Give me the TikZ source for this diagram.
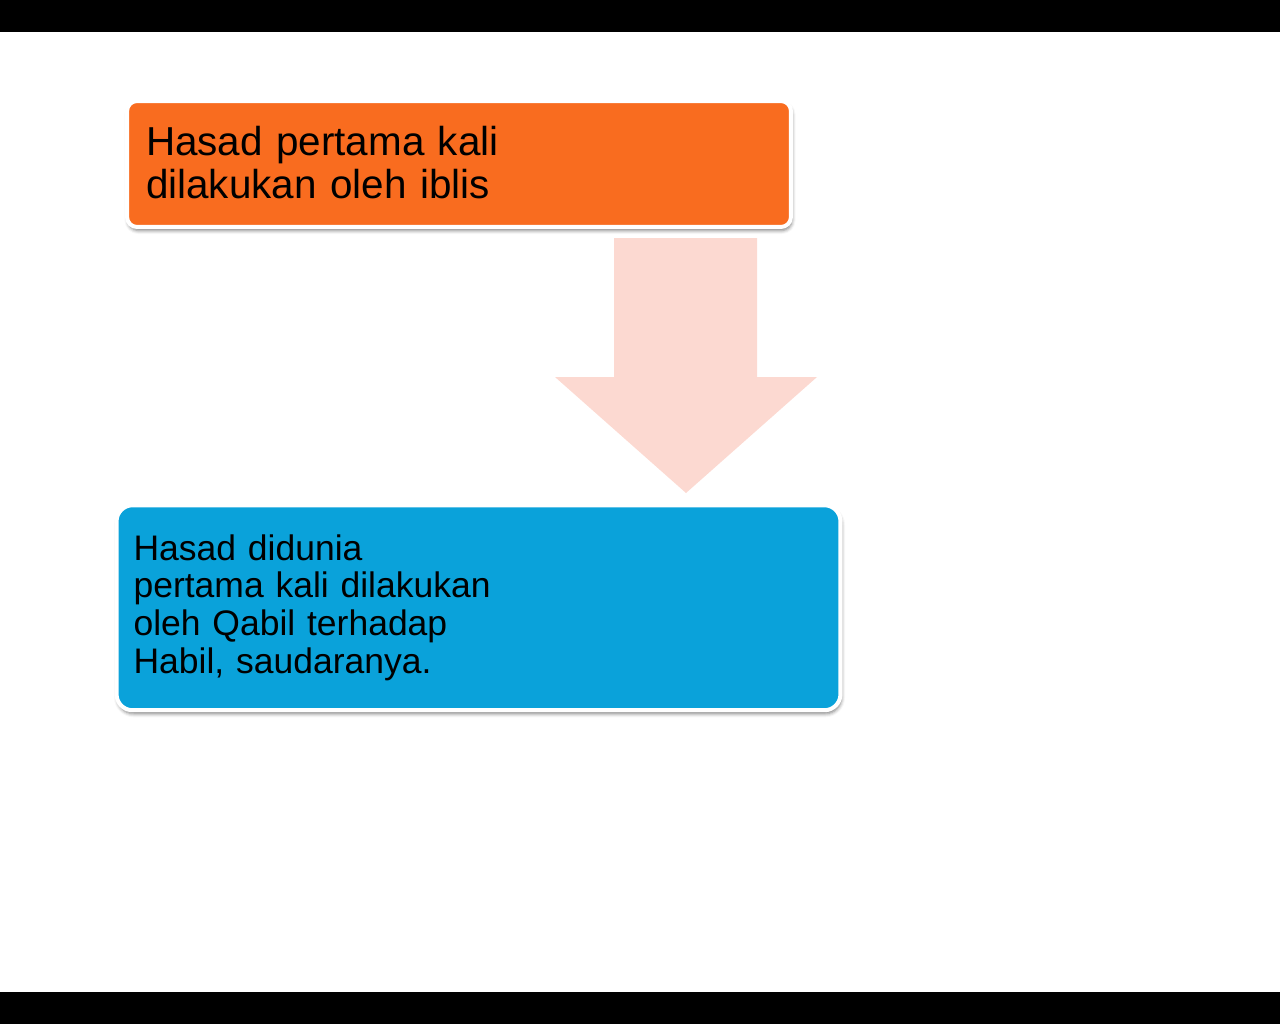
\documentclass[tikz,border=0pt]{standalone}
\usepackage{fontspec}
\setmainfont{Liberation Sans}
\usepackage{xcolor}
\usetikzlibrary{positioning, calc, shadows.blur}
\definecolor{hasadorange}{HTML}{F96C1F}
\definecolor{hasadblue}{HTML}{0AA2DA}
\definecolor{arrowpink}{HTML}{FCD9D1}

\begin{document}
\begin{tikzpicture}[x=0.02cm, y=-0.02cm,
    hasadbox/.style={draw=white, line width=4*0.02cm, align=left,
      blur shadow={shadow xshift=0.6pt, shadow yshift=-2pt, shadow blur radius=2pt, shadow opacity=50}}]
    \useasboundingbox (0,0) rectangle (1280,1024);
    % Black bars of the slide
    \fill[black] (0,0) rectangle (1280,32);
    \fill[black] (0,992) rectangle (1280,1024);
    % Top box
    \node[hasadbox, fill=hasadorange, rounded corners=0.2cm,
      minimum width=13.28cm, minimum height=2.52cm, inner xsep=0.38cm,
      text width=12.52cm, font=\fontsize{23}{24.6}\selectfont] (iblis) at (459,164)
      {Hasad pertama kali\\dilakukan oleh iblis\vspace{0.06cm}};
    % Bottom box
    \node[hasadbox, fill=hasadblue, rounded corners=0.32cm,
      minimum width=14.48cm, minimum height=4.1cm, inner xsep=0.34cm,
      text width=13.8cm, font=\fontsize{20.2}{21.6}\selectfont] (qabil) at (478.5,607.75)
      {Hasad didunia\\pertama kali dilakukan\\oleh Qabil terhadap\\Habil, saudaranya.};
    % Block arrow
    \fill[arrowpink] (614,238) -- (757,238) -- (757,377) -- (817,377)
      -- (686,493) -- (555,377) -- (614,377) -- cycle;
  \end{tikzpicture}
\end{document}
